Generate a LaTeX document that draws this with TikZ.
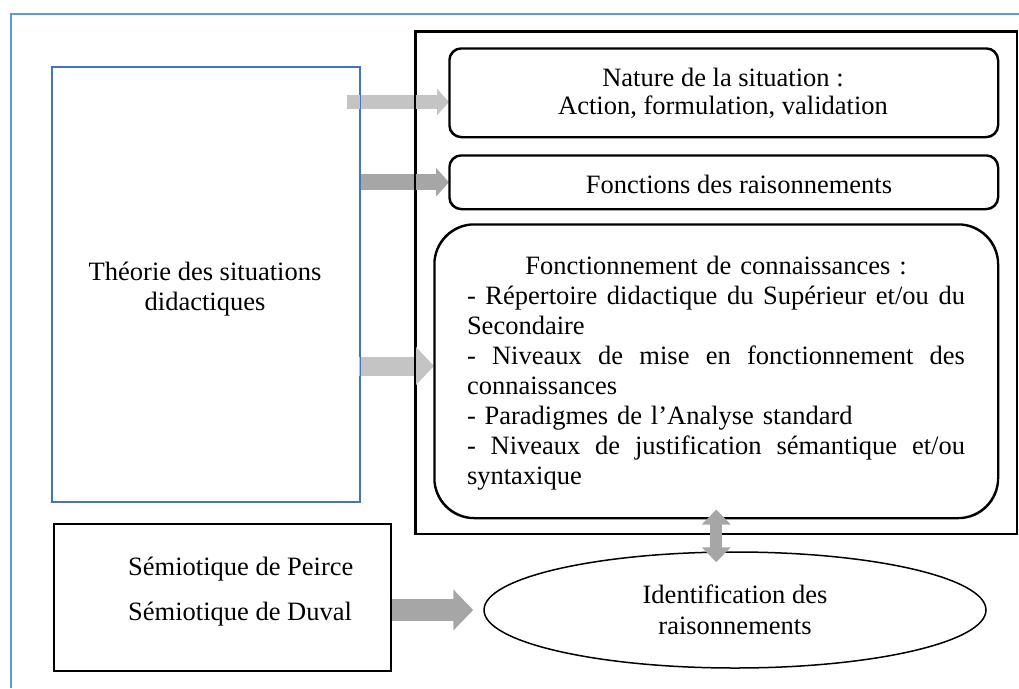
\documentclass[tikz,border=0pt]{standalone}
\usepackage{fontspec}
\setmainfont{Liberation Serif}
\usetikzlibrary{arrows.meta,shapes.geometric,calc}
\definecolor{frameblue}{RGB}{91,155,213}
\definecolor{boxblue}{RGB}{68,114,196}
\definecolor{lightarrow}{RGB}{196,196,196}
\definecolor{darkarrow}{RGB}{166,166,166}
\newcommand\jline[1]{\leavevmode\hbox to 498pt{\spaceskip=0.25em plus 1fil\relax #1}}
\begin{document}
\begin{tikzpicture}[x=1pt,y=-1pt,
  font=\fontsize{26.5}{28}\selectfont,
  box/.style={draw=black, line width=1.5pt, anchor=north west, inner sep=0pt},
  rbox/.style={box, rounded corners=12pt},
  txt/.style={inner sep=0pt, align=center},
  larrow/.style={draw=lightarrow, line cap=butt},
  darrow/.style={draw=darkarrow, line cap=butt}]
\useasboundingbox (0,0) rectangle (1019,688);
% outer frame
\draw[frameblue, line width=1.5pt] (11,688) -- (11,14) -- (1019,14);
% nodes (empty shapes)
\node[box, draw=boxblue, line width=1.3pt, minimum width=307pt, minimum height=434pt] (theorie) at (52,67) {};
\node[box, minimum width=601pt, minimum height=502pt] (outer) at (415,31) {};
\node[rbox, minimum width=548pt, minimum height=88pt] (box1) at (449,48) {};
\node[rbox, minimum width=548pt, minimum height=53pt] (box2) at (449,155) {};
\node[box, rounded corners=40pt, minimum width=563pt, minimum height=293pt] (box3) at (434,224) {};
\node[box, minimum width=337pt, minimum height=147pt] (semio) at (53,523) {};
\node[draw=black, line width=1.5pt, ellipse, inner sep=0pt, align=center, minimum width=502pt, minimum height=116pt] (ident) at (735,610) {Identification des\\[3pt]raisonnements};
% coordinates for arrows
\coordinate (a1s) at (347,102);
\coordinate (a3s) at (359,366);
\coordinate (a4s) at (ident.west -| semio.east);
\coordinate (a4e) at ($(ident.west)+(-10,0)$);
\coordinate (da1) at ($(box3.south)+(0,-9)$);
\coordinate (da2) at ($(box3.south |- ident.north)+(0,11)$);
% arrows
\draw[larrow, line width=14pt, -{Triangle[length=12pt,width=26pt]}] (a1s) -- (a1s -| box1.west);
\draw[darrow, line width=16pt, -{Triangle[length=13pt,width=28pt]}] (theorie.east |- box2.west) -- (box2.west);
\draw[larrow, line width=19pt, -{Triangle[length=18pt,width=37pt]}] (a3s) -- (a3s -| box3.west);
\draw[darrow, line width=22pt, -{Triangle[length=20pt,width=40pt]}] (a4s) -- (a4e);
% redraw borders over arrows
\draw[boxblue, line width=1.3pt] (theorie.north west) rectangle (theorie.south east);
\draw[black, line width=1.5pt] (outer.north west) rectangle (outer.south east);
\draw[black, line width=1.5pt, rounded corners=12pt] (box1.north west) rectangle (box1.south east);
\draw[black, line width=1.5pt, rounded corners=12pt] (box2.north west) rectangle (box2.south east);
\draw[black, line width=1.5pt, rounded corners=40pt] (box3.north west) rectangle (box3.south east);
% double arrow on top
\draw[darrow, line width=12pt, {Triangle[length=15pt,width=28pt]}-{Triangle[length=15pt,width=28pt]}] (da1) -- (da2);
% texts
\node[txt] (t1) at (723,93) {Nature de la situation :\\Action, formulation, validation};
\node[txt] (t2) at (739,184) {Fonctions des raisonnements};
\node[txt] (t0) at (205,289) {Théorie des situations\\[2pt]didactiques};
\node[inner sep=0pt, align=left, anchor=west] (t4) at (128,592) {Sémiotique de Peirce\\[17pt]Sémiotique de Duval};
\node[inner sep=0pt, align=left, text width=498pt, font=\fontsize{26.5}{30}\selectfont] (t3) at (716,373) {%
\leavevmode\hbox to 498pt{\hfil Fonctionnement de connaissances :\hfil}\\
\jline{- Répertoire didactique du Supérieur et/ou du}\\
Secondaire\\
\jline{- Niveaux de mise en fonctionnement des}\\
connaissances\\
- Paradigmes de l’Analyse standard\\
\jline{- Niveaux de justification sémantique et/ou}\\
syntaxique};
\end{tikzpicture}
\end{document}
